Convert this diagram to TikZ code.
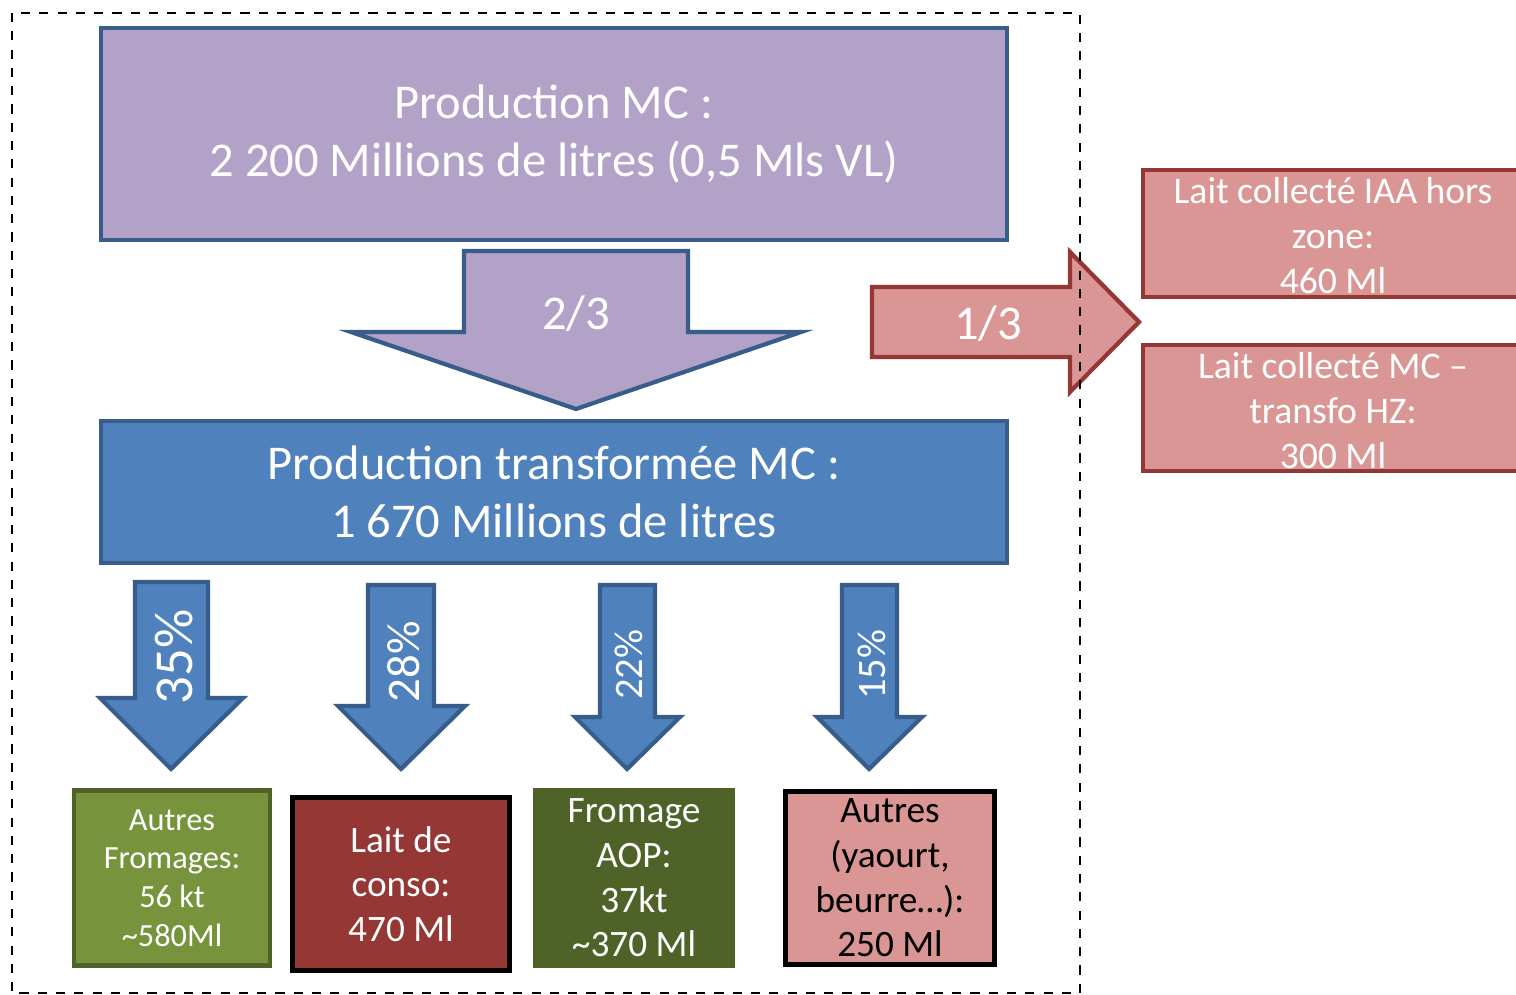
\documentclass[tikz,border=0pt]{standalone}
\usepackage{fontspec}
\setmainfont{Carlito}
\begin{document}
\begin{tikzpicture}[x=0.01cm,y=-0.01cm,
  box/.style={draw,line width=1.2pt,align=center,inner sep=0pt},
  blk/.style={draw,line width=1.2pt,line join=miter},
  pct/.style={rotate=90,text=white}]
\colorlet{purp}{rgb,255:red,178;green,162;blue,199}
\colorlet{bleu}{rgb,255:red,79;green,129;blue,189}
\colorlet{bleuline}{rgb,255:red,56;green,93;blue,138}
\colorlet{rose}{rgb,255:red,217;green,150;blue,148}
\colorlet{brique}{rgb,255:red,149;green,55;blue,53}
\colorlet{olive}{rgb,255:red,119;green,147;blue,60}
\colorlet{kaki}{rgb,255:red,79;green,98;blue,40}
\clip (0,0) rectangle (1516,995);
% production totale et transformee
\node[box,draw=bleuline,fill=purp,text=white,minimum width=9.06cm,minimum height=2.12cm,
  font=\fontsize{13.8}{16.5}\selectfont] (prod) at (554,134)
  {Production MC :\\2 200 Millions de litres (0,5 Mls VL)};
\filldraw[blk,draw=bleuline,fill=purp] (464,251) -- (688,251) -- (688,332) -- (801,332)
  -- (576,409) -- (351,332) -- (464,332) -- cycle;
\node[text=white,font=\fontsize{13.8}{16.5}\selectfont] (deux) at (576,314) {2/3};
\node[box,draw=bleuline,fill=bleu,text=white,minimum width=9.06cm,minimum height=1.42cm,
  font=\fontsize{13.8}{16.5}\selectfont] (transfo) at (554,492)
  {Production transformée MC :\\1 670 Millions de litres};
% sortie hors zone
\filldraw[blk,draw=brique,fill=rose] (872,287) -- (1070,287) -- (1070,252) -- (1139,322)
  -- (1070,392) -- (1070,357) -- (872,357) -- cycle;
\node[text=white,font=\fontsize{13.8}{16.5}\selectfont] (tiers) at (988,324) {1/3};
\filldraw[blk,draw=brique,fill=rose] (1143,170) rectangle (1530,297);
\node[text=white,align=center,font=\fontsize{10.7}{12.8}\selectfont] (iaa) at (1333,236)
  {Lait collecté IAA hors\\zone:\\460 Ml};
\filldraw[blk,draw=brique,fill=rose] (1143,345) rectangle (1530,471);
\node[text=white,align=center,font=\fontsize{10.7}{12.8}\selectfont] (hz) at (1333,411)
  {Lait collecté MC --\\transfo HZ:\\300 Ml};
% repartition par debouche
\filldraw[blk,draw=bleuline,fill=bleu] (135,582) -- (208,582) -- (208,698) -- (243,698)
  -- (171,769) -- (100,698) -- (135,698) -- cycle;
\node[pct,font=\fontsize{15.6}{18}\selectfont] (p35) at (174,657) {35\%};
\filldraw[blk,draw=bleuline,fill=bleu] (368,585) -- (434,585) -- (434,706) -- (465,706)
  -- (401,769) -- (338,706) -- (368,706) -- cycle;
\node[pct,font=\fontsize{13.3}{16}\selectfont] (p28) at (404,662) {28\%};
\filldraw[blk,draw=bleuline,fill=bleu] (600,585) -- (655,585) -- (655,717) -- (680,717)
  -- (627,769) -- (575,717) -- (600,717) -- cycle;
\node[pct,font=\fontsize{11.5}{14}\selectfont] (p22) at (629,665) {22\%};
\filldraw[blk,draw=bleuline,fill=bleu] (842,585) -- (897,585) -- (897,717) -- (922,717)
  -- (869,769) -- (817,717) -- (842,717) -- cycle;
\node[pct,font=\fontsize{11.5}{14}\selectfont] (p15) at (872,665) {15\%};
\node[box,draw=kaki,fill=olive,text=white,minimum width=1.96cm,minimum height=1.75cm,
  font=\fontsize{9.2}{11}\selectfont] (autfro) at (172,878)
  {Autres\\Fromages:\\56 kt\\\textasciitilde580Ml};
\node[box,draw=black,line width=1.5pt,fill=brique,text=white,minimum width=2.17cm,minimum height=1.73cm,
  font=\fontsize{10.6}{12.7}\selectfont] (lait) at (401,884)
  {Lait de\\conso:\\470 Ml};
\node[box,draw=kaki,fill=kaki,text=white,minimum width=1.97cm,minimum height=1.75cm,
  font=\fontsize{10.6}{12.7}\selectfont] (aop) at (634,878)
  {Fromage\\AOP:\\37kt\\\textasciitilde370 Ml};
\node[box,draw=black,line width=1.5pt,fill=rose,text=black,minimum width=2.09cm,minimum height=1.73cm,
  font=\fontsize{10.6}{12.7}\selectfont] (autres) at (890,878)
  {Autres\\(yaourt,\\beurre…):\\250 Ml};
% perimetre de la zone
\draw[line width=0.7pt,dash pattern=on 2.6pt off 2.6pt] (12,13) rectangle (1080,993);
\end{tikzpicture}
\end{document}
